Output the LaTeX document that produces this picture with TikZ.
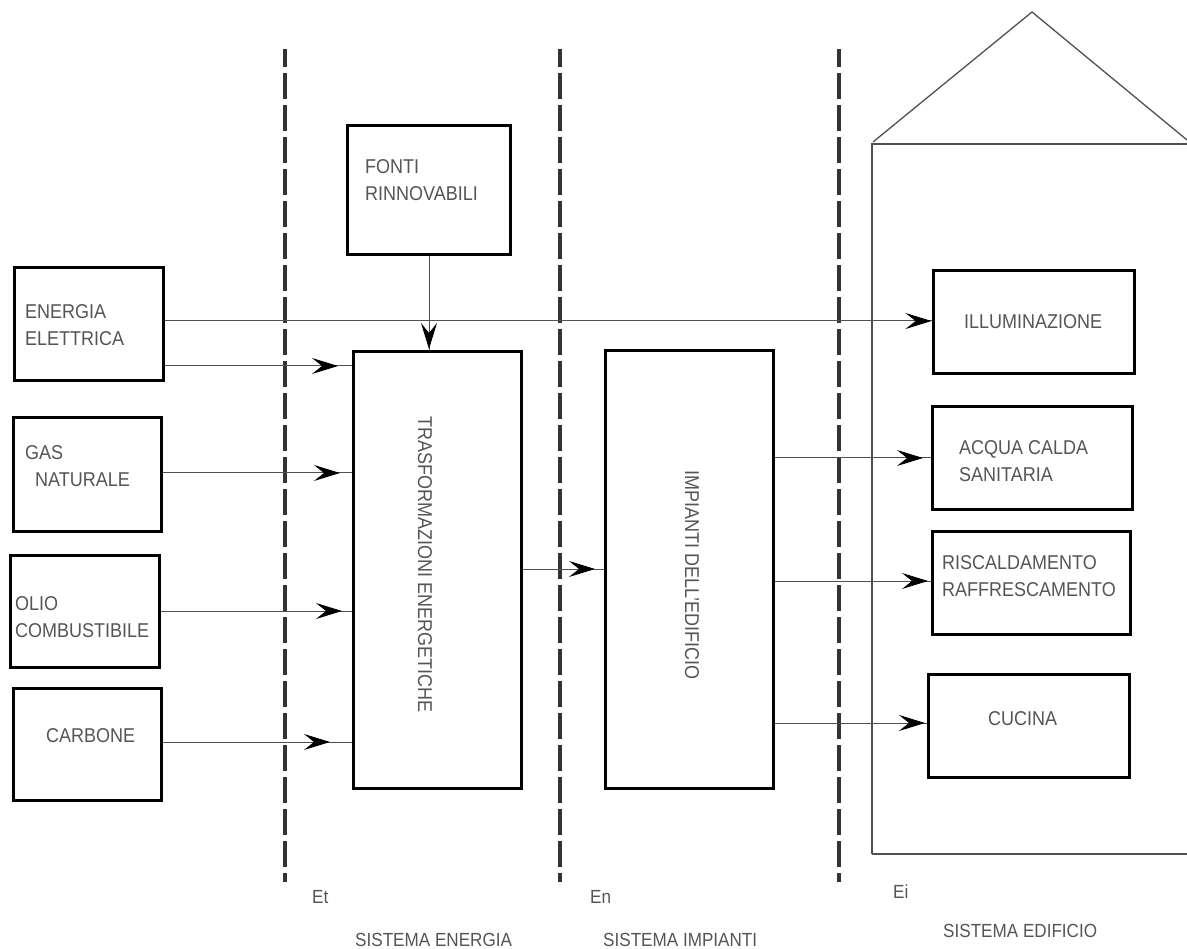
\documentclass[tikz,border=0pt]{standalone}
\usepackage{fontspec}
\setmainfont{Liberation Sans}[FakeStretch=0.9]
\usetikzlibrary{arrows.meta,decorations.markings}
\definecolor{txt}{HTML}{555555}
\definecolor{ln}{HTML}{505050}
\definecolor{dash}{HTML}{333333}
\begin{document}
\begin{tikzpicture}[x=1pt,y=-1pt,
  box/.style={draw=black,line width=3pt,inner sep=0pt,anchor=north west},
  lbl/.style={text=txt,inner sep=0pt,anchor=north west,align=left,font=\fontsize{20}{27}\selectfont},
  sys/.style={text=txt,inner sep=0pt,anchor=base west,font=\fontsize{19}{22}\selectfont},
  vlbl/.style={text=txt,inner sep=0pt,rotate=-90,font=\fontsize{20}{24}\selectfont},
  divider/.style={draw=dash,line width=4.5pt,dash pattern=on 26pt off 6pt,dash phase=8pt},
  bld/.style={draw=ln,line width=1.3pt},
  ar/.style={draw=ln,line width=1pt,postaction=decorate,
    decoration={markings,mark=at position -#1 with {\arrow{Stealth[length=26pt,width=16pt,inset=10pt,color=black]}}}}
]
\useasboundingbox (0,0) rectangle (1187,949);

% building outline
\draw[bld] (872,854) -- (872,144) -- (1187,144);
\draw[bld] (872,854) -- (1187,854);
\draw[bld] (873,142) -- (1032,12) -- (1187,140);

% dividers
\draw[divider] (285,49) -- (285,882);
\draw[divider] (560,49) -- (560,882);
\draw[divider] (839,49) -- (839,882);

% source boxes
\node[box,minimum width=149pt,minimum height=113pt] (ee) at (13,266) {};
\node[box,minimum width=148pt,minimum height=114pt] (gn) at (12,416) {};
\node[box,minimum width=149pt,minimum height=112pt] (oc) at (9,554) {};
\node[box,minimum width=148pt,minimum height=112pt] (cb) at (12,687) {};
\node[box,minimum width=163pt,minimum height=129pt] (fr) at (346,124) {};
% central boxes
\node[box,minimum width=168pt,minimum height=437pt] (tr) at (352,350) {};
\node[box,minimum width=168pt,minimum height=438pt] (im) at (604,349) {};
% use boxes
\node[box,minimum width=201pt,minimum height=103pt] (il) at (932,269) {};
\node[box,minimum width=200pt,minimum height=103pt] (ac) at (931,405) {};
\node[box,minimum width=198pt,minimum height=103pt] (ri) at (931,530) {};
\node[box,minimum width=201pt,minimum height=103pt] (cu) at (927,673) {};

% texts
\node[lbl] (tee) at (25,304) {ENERGIA\\ELETTRICA};
\node[lbl] (tgn) at (25,445) {GAS\\\hspace{10pt}NATURALE};
\node[lbl] (toc) at (15,596) {OLIO\\COMBUSTIBILE};
\node[lbl] (tcb) at (46,728) {CARBONE};
\node[lbl] (tfr) at (365,159) {FONTI\\RINNOVABILI};
\node[lbl] (til) at (964,314) {ILLUMINAZIONE};
\node[lbl] (tac) at (959,440) {ACQUA CALDA\\SANITARIA};
\node[lbl] (tri) at (942,555) {RISCALDAMENTO\\RAFFRESCAMENTO};
\node[lbl] (tcu) at (988,711) {CUCINA};
\node[vlbl] (ttr) at (425,565) {TRASFORMAZIONI ENERGETICHE};
\node[vlbl] (tim) at (692,575) {IMPIANTI DELL'EDIFICIO};

% bottom labels
\node[sys] (et) at (312,903) {Et};
\node[sys] (en) at (590,903) {En};
\node[sys] (ei) at (893,898) {Ei};
\node[sys] (se) at (355,946) {SISTEMA ENERGIA};
\node[sys] (si) at (603,946) {SISTEMA IMPIANTI};
\node[sys] (sd) at (943,937) {SISTEMA EDIFICIO};

% connectors
\draw[ar=0.5pt] (ee.east |- 0,321) -- (il.west |- 0,321);
\draw[ar=14pt] (ee.east |- 0,366) -- (tr.west |- 0,366);
\draw[ar=12pt] (gn.east |- 0,473) -- (tr.west |- 0,473);
\draw[ar=10pt] (oc.east |- 0,611) -- (tr.west |- 0,611);
\draw[ar=22pt] (cb.east |- 0,742) -- (tr.west |- 0,742);
\draw[ar=1pt] (fr.south) -- (tr.north -| fr.south);
\draw[ar=9pt] (tr.east |- 0,569) -- (im.west |- 0,569);
\draw[ar=8pt] (im.east |- 0,458) -- (ac.west |- 0,458);
\draw[ar=3pt] (im.east |- 0,581) -- (ri.west |- 0,581);
\draw[ar=2pt] (im.east |- 0,723) -- (cu.west |- 0,723);
\end{tikzpicture}
\end{document}
